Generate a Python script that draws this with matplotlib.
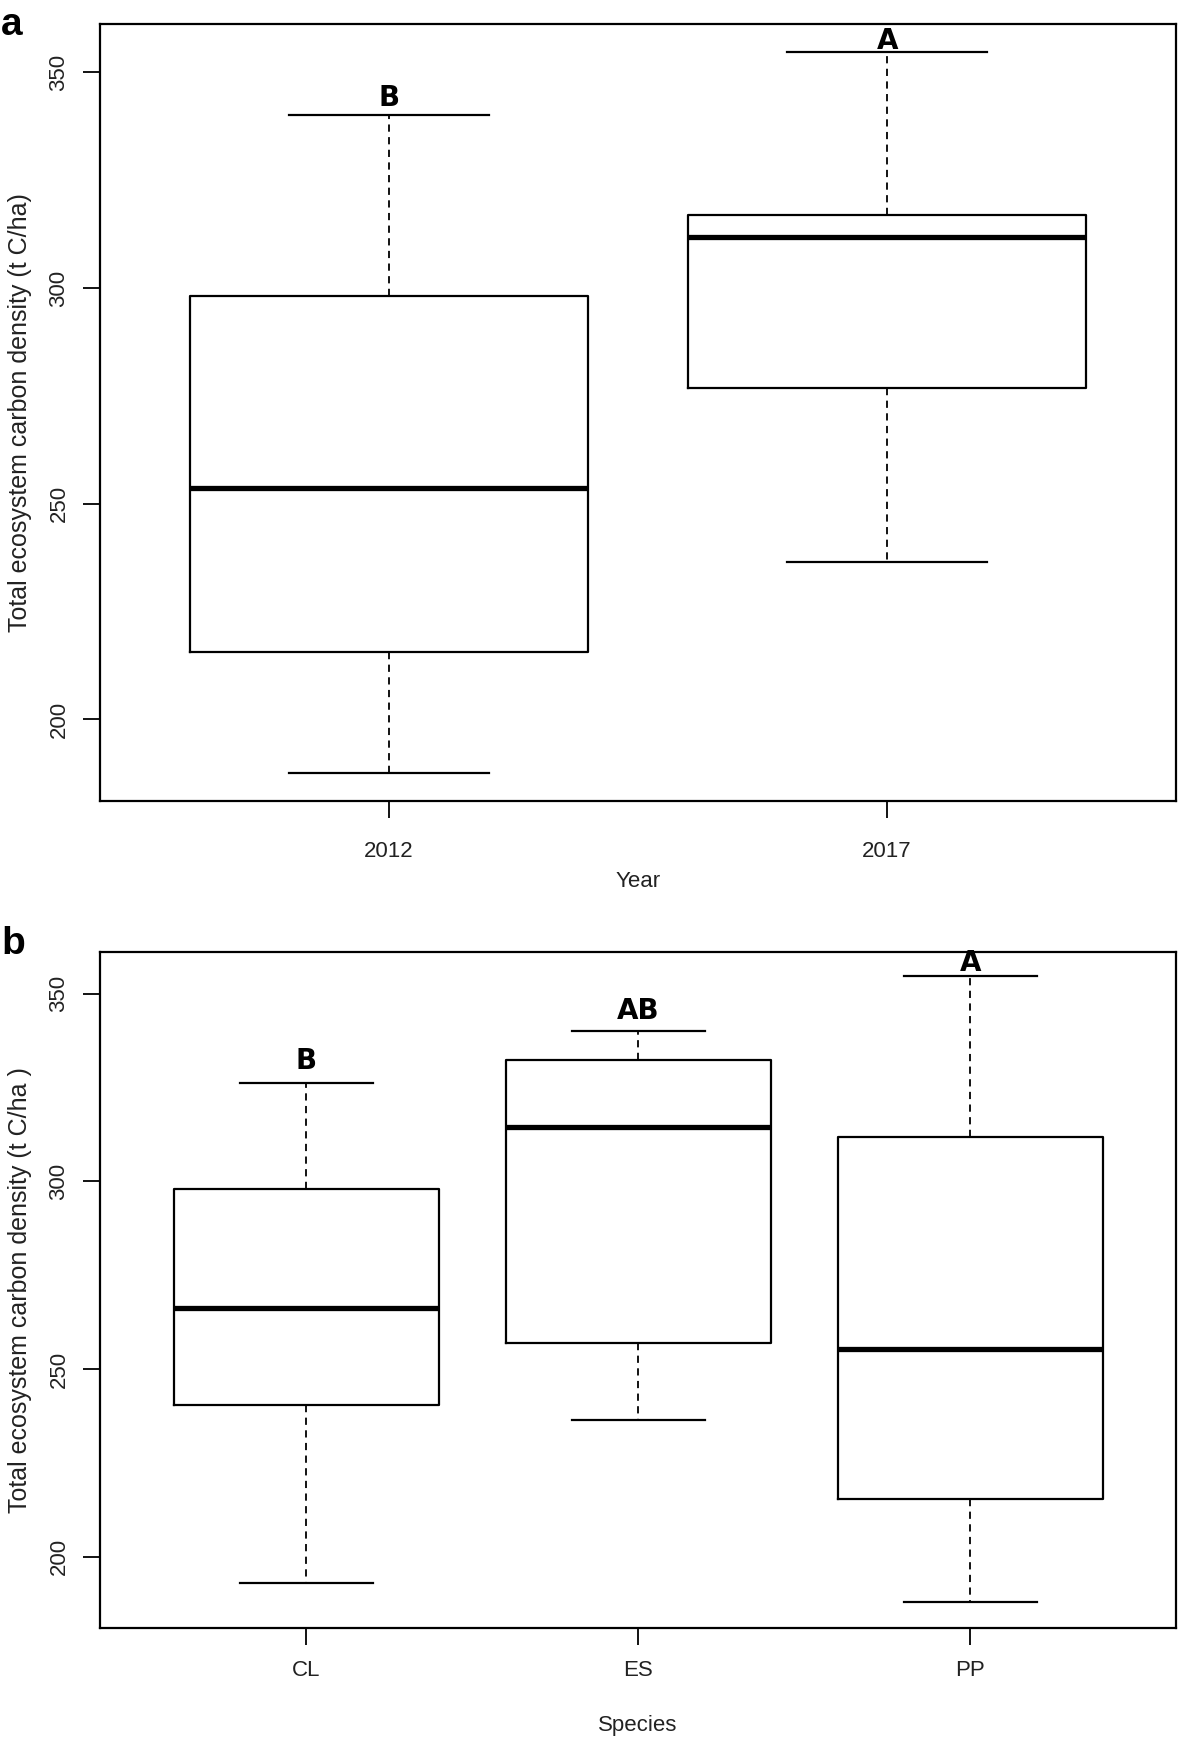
import matplotlib
matplotlib.use("Agg")
import matplotlib.pyplot as plt

# ---- data ----
years = ["2012", "2017"]
year_whislo = [187.7, 236.5]
year_q1 = [215.6, 276.8]
year_med = [253.7, 311.9]
year_q3 = [298.2, 316.9]
year_whishi = [340.0, 354.6]
year_letters = ["B", "A"]
year_letter_y = [344.1, 357.2]

species = ["CL", "ES", "PP"]
sp_whislo = [193.1, 236.5, 188.0]
sp_q1 = [240.3, 256.9, 215.5]
sp_med = [266.3, 314.5, 255.4]
sp_q3 = [298.0, 332.3, 311.9]
sp_whishi = [326.3, 340.2, 354.7]
sp_letters = ["B", "AB", "A"]
sp_letter_y = [332.2, 345.5, 358.3]

plt.rcParams['font.family'] = ['Liberation Sans', 'DejaVu Sans']

fig = plt.figure(figsize=(11.81, 17.38), dpi=100)
ax_a = fig.add_axes([0.0847, 0.5391, 0.9111, 0.4471])
ax_b = fig.add_axes([0.0847, 0.0635, 0.9111, 0.3889])


def draw_panel(ax, labels, lo, q1, med, q3, hi, letters, letter_y, xlim, xlabel, ylabel):
    stats = []
    for i in range(len(labels)):
        stats.append(dict(whislo=lo[i], q1=q1[i], med=med[i], q3=q3[i], whishi=hi[i], fliers=[]))
    pos = list(range(1, len(labels) + 1))
    ax.bxp(stats, positions=pos, widths=0.8, showfliers=False,
           boxprops=dict(color='black', linewidth=1.6),
           medianprops=dict(color='black', linewidth=3.8, solid_capstyle='butt'),
           whiskerprops=dict(color='black', linewidth=1.3, linestyle=(0, (4, 3))),
           capprops=dict(color='black', linewidth=1.6),
           capwidths=0.4)
    # significance letters
    for p, t, y in zip(pos, letters, letter_y):
        ax.text(p, y, t, ha='center', va='center', fontsize=20, fontweight='bold',
                family='DejaVu Sans')
    ax.set_xlim(*xlim)
    ax.set_ylim(181.1, 361.2)
    ax.set_yticks([200, 250, 300, 350])
    ax.set_yticklabels(["200", "250", "300", "350"], rotation=90, va='center')
    ax.set_xticks(pos)
    ax.set_xticklabels(labels)
    ax.tick_params(length=12, width=1.3, labelsize=16, labelcolor='#222222', pad=10)
    for s in ax.spines.values():
        s.set_linewidth(1.6)
    ax.set_xlabel(xlabel, fontsize=16, color='#222222')
    ax.set_ylabel(ylabel, fontsize=18, color='#222222', labelpad=12)


draw_panel(ax_a, years, year_whislo, year_q1, year_med, year_q3, year_whishi,
           year_letters, year_letter_y, (0.42, 2.58), "Year",
           "Total ecosystem carbon density (t C/ha)")
ax_a.tick_params(axis='x', pad=17)
ax_a.xaxis.labelpad = 6

draw_panel(ax_b, species, sp_whislo, sp_q1, sp_med, sp_q3, sp_whishi,
           sp_letters, sp_letter_y, (0.378, 3.62), "Species",
           "Total ecosystem carbon density (t C/ha )")
ax_b.tick_params(axis='x', pad=11)
ax_b.xaxis.labelpad = 25

fig.text(0.001, 1 - 35 / 1738, "a", fontsize=28, fontweight='bold', va='baseline', ha='left')
fig.text(0.001, 1 - 954 / 1738, "b", fontsize=28, fontweight='bold', va='baseline', ha='left')

fig.savefig("out.png", dpi=100)
